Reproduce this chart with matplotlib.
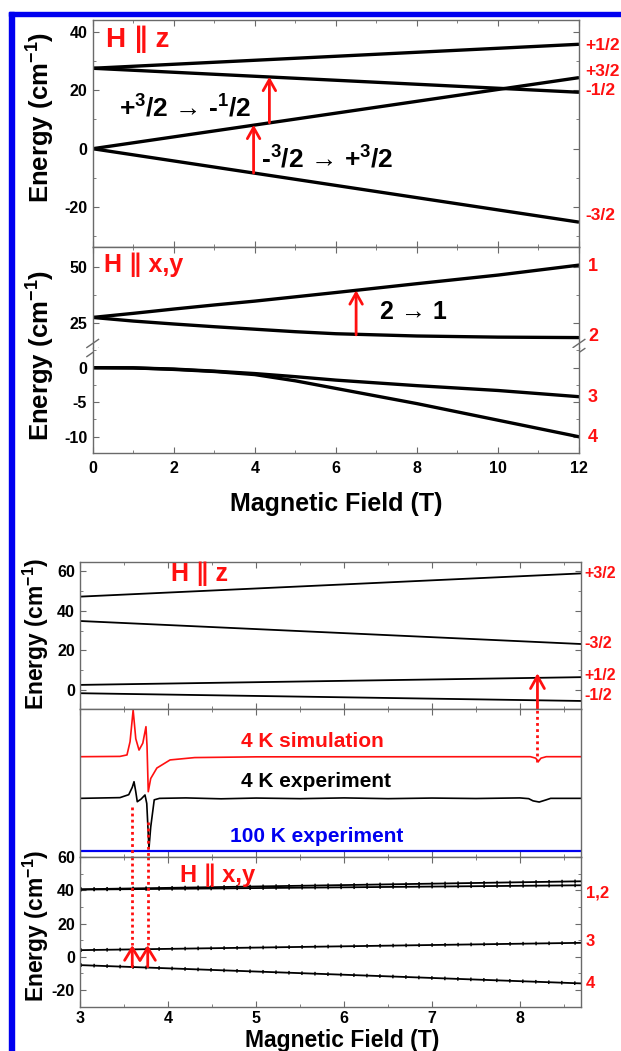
import matplotlib
matplotlib.use('Agg')
import matplotlib.pyplot as plt
from matplotlib.patches import Rectangle
from matplotlib.ticker import MultipleLocator

plt.rcParams['font.family'] = ['Liberation Sans', 'DejaVu Sans']
plt.rcParams['font.weight'] = 'bold'
plt.rcParams['mathtext.fontset'] = 'custom'
plt.rcParams['mathtext.bf'] = 'Liberation Sans:bold'
plt.rcParams['mathtext.rm'] = 'Liberation Sans:bold'
plt.rcParams['mathtext.default'] = 'bf'
plt.rcParams['axes.unicode_minus'] = False

W, H = 621, 1051
RED = '#ff1010'
BLUE = '#0000f0'
SPINE = '#6a6a6a'

# ---- top figure, H || z levels (0-12 T)
field_z = [0, 12]
lev_z = {'+1/2': [27.5, 35.7], '-1/2': [27.5, 19.3],
         '+3/2': [0.0, 24.3], '-3/2': [0.0, -25.1]}

# ---- top figure, H || x,y levels
field_xy = [0, 1, 2, 3, 4, 5, 6, 8, 10, 12]
lev_xy1 = [27.6, 29.4, 31.3, 33.1, 34.8, 36.7, 38.6, 42.5, 46.3, 50.7]
lev_xy2 = [27.6, 26.0, 24.7, 23.5, 22.4, 21.3, 20.4, 19.4, 18.9, 18.7]
lev_xy3 = [0.0, -0.03, -0.2, -0.5, -0.85, -1.3, -1.8, -2.6, -3.3, -4.2]
lev_xy4 = [0.0, -0.03, -0.25, -0.55, -1.0, -1.9, -3.0, -5.2, -7.6, -10.0]

# ---- bottom figure, levels 3-8.7 T
field_b = [3.0, 8.7]
levA = {'+3/2': [47.1, 58.8], '-3/2': [34.8, 23.2],
        '+1/2': [2.6, 6.5], '-1/2': [-1.6, -5.5]}
levC = {'1': [40.6, 45.4], '2': [40.4, 43.0], '3': [4.0, 8.4], '4': [-5.0, -16.0]}

# ---- spectra (offset, arb. units)
sim_x = [3.0, 3.45, 3.53, 3.565, 3.60, 3.63, 3.667, 3.71, 3.746, 3.758, 3.772,
         3.80, 3.87, 4.02, 4.3, 5.0, 8.12, 8.18, 8.21, 8.24, 8.3, 8.7]
sim_y = [0.678, 0.680, 0.69, 0.78, 0.995, 0.80, 0.723, 0.77, 0.882, 0.75, 0.44,
         0.53, 0.601, 0.656, 0.672, 0.677, 0.678, 0.668, 0.645, 0.668, 0.678, 0.678]
exp4_x = [3.0, 3.45, 3.55, 3.59, 3.61, 3.63, 3.647, 3.69, 3.735, 3.755, 3.78, 3.80,
          3.84, 3.9, 4.2, 4.6, 5.0, 5.5, 6.0, 6.5, 7.0, 7.5, 8.0, 8.1, 8.15, 8.22,
          8.3, 8.35, 8.7]
exp4_y = [0.395, 0.40, 0.42, 0.47, 0.508, 0.44, 0.372, 0.39, 0.418, 0.36, 0.055, 0.2,
          0.385, 0.395, 0.398, 0.392, 0.397, 0.393, 0.398, 0.393, 0.397, 0.394,
          0.398, 0.393, 0.378, 0.37, 0.385, 0.395, 0.395]
exp100_x = [3.0, 8.7]
exp100_y = [0.037, 0.037]


def rect(x0, y0, x1, y1):
    return [x0 / W, 1 - y1 / H, (x1 - x0) / W, (y1 - y0) / H]


def style(ax, xmaj, xmin, ymaj=None, ymin=None, labelbottom=False):
    for s in ax.spines.values():
        s.set_color(SPINE)
        s.set_linewidth(1.0)
    ax.tick_params(which='both', direction='in', top=True, right=True,
                   color=SPINE, labelsize=11.5, labelbottom=labelbottom, pad=4)
    ax.tick_params(which='major', length=4.5)
    ax.tick_params(which='minor', length=2.5)
    ax.xaxis.set_major_locator(MultipleLocator(xmaj))
    ax.xaxis.set_minor_locator(MultipleLocator(xmin))
    if ymaj is None:
        ax.set_yticks([])
    else:
        ax.yaxis.set_major_locator(MultipleLocator(ymaj))
        ax.yaxis.set_minor_locator(MultipleLocator(ymin))


def arrow(ax, x, y0, y1, lw=2.0, hl=0.8, hw=0.45):
    ax.annotate('', xy=(x, y1), xytext=(x, y0),
                arrowprops=dict(arrowstyle=f'->,head_length={hl},head_width={hw}',
                                color=RED, lw=lw, shrinkA=0, shrinkB=0))


def ftext(x, y, s, **kw):
    fig.text(x / W, 1 - y / H, s, **kw)


fig = plt.figure(figsize=(W / 100, H / 100), dpi=100)

# ================= top figure =================
ax1 = fig.add_axes(rect(92.7, 20, 579, 247))
for name, vals in lev_z.items():
    ax1.plot(field_z, vals, color='black', lw=2.4, solid_capstyle='butt')
ax1.set_xlim(0, 12)
ax1.set_ylim(-33.6, 44)
style(ax1, 2, 1, 20, 10)
ax1.text(0.33, 37.3, 'H ∥ z', color=RED, fontsize=20, va='center', ha='left')
ax1.text(0.64, 10.9, '+$^{3}$/2 → -$^{1}$/2', fontsize=19, va='baseline', ha='left')
ax1.text(4.16, -6.6, '-$^{3}$/2 → +$^{3}$/2', fontsize=19, va='baseline', ha='left')
arrow(ax1, 3.97, -8.3, 8.2)
arrow(ax1, 4.36, 8.9, 24.6)

ax2u = fig.add_axes(rect(92.7, 247, 579, 348))
ax2l = fig.add_axes(rect(92.7, 348, 579, 453))
ax2u.plot(field_xy, lev_xy1, color='black', lw=2.4)
ax2u.plot(field_xy, lev_xy2, color='black', lw=2.4)
ax2l.plot(field_xy, lev_xy3, color='black', lw=2.4)
ax2l.plot(field_xy, lev_xy4, color='black', lw=2.4)
for ax in (ax2u, ax2l):
    ax.set_xlim(0, 12)
ax2u.set_ylim(14.1, 58.7)
ax2l.set_ylim(-12.35, 2.85)
style(ax2u, 2, 1, 25, 12.5)
style(ax2l, 2, 1, 5, 2.5, labelbottom=True)
ax2u.spines['bottom'].set_visible(False)
ax2l.spines['top'].set_visible(False)
ax2u.tick_params(which='both', bottom=False)
ax2l.tick_params(which='both', top=False)
ax2l.tick_params(axis='x', pad=6)
for xa in (0, 1):
    for dy in (-0.045, 0.045):
        ax2u.plot([xa - 0.012, xa + 0.012], [dy - 0.04, dy + 0.04],
                  transform=ax2u.transAxes, color=SPINE, lw=1, clip_on=False)
ax2u.text(0.27, 50.7, 'H ∥ x,y', color=RED, fontsize=18, va='center', ha='left')
ax2u.text(7.09, 30.1, '2 → 1', fontsize=18, va='center', ha='left')
arrow(ax2u, 6.5, 19.9, 39.6)

ftext(41, 118, 'Energy (cm$^{-1}$)', rotation=90, fontsize=18.5, ha='center', va='center')
ftext(41, 356, 'Energy (cm$^{-1}$)', rotation=90, fontsize=18.5, ha='center', va='center')
ftext(336, 504, 'Magnetic Field (T)', fontsize=18, ha='center', va='center')

for s, y in [('+1/2', 45), ('+3/2', 71.7), ('-1/2', 90.7), ('-3/2', 215)]:
    ftext(585.5, y, s, color=RED, fontsize=12.5, va='center', ha='left')
for s, y in [('1', 266.7), ('2', 336.7), ('3', 398), ('4', 438)]:
    ftext(588, y, s, color=RED, fontsize=13, va='center', ha='left')

# ================= bottom figure =================
axA = fig.add_axes(rect(80.4, 561.7, 581.4, 709.3))
axB = fig.add_axes(rect(80.4, 709.3, 581.4, 856.5))
axC = fig.add_axes(rect(80.4, 856.5, 581.4, 1006.7))

for name, vals in levA.items():
    axA.plot(field_b, vals, color='black', lw=1.3)
axA.set_xlim(3, 8.7)
axA.set_ylim(-9.7, 64.7)
style(axA, 1, 0.5, 20, 10)
axA.text(4.03, 58.8, 'H ∥ z', color=RED, fontsize=18, va='center', ha='left')
arrow(axA, 8.2, -9.7, 8.5, lw=2.0, hl=0.9, hw=0.5)

axB.plot(sim_x, sim_y, color=RED, lw=1.2)
axB.plot(exp4_x, exp4_y, color='black', lw=1.2)
axB.plot(exp100_x, exp100_y, color=BLUE, lw=1.6)
axB.set_xlim(3, 8.7)
axB.set_ylim(0, 1)
style(axB, 1, 0.5)
axB.plot([3.59, 3.59], [0.338, 0], color=RED, lw=2, ls=(0, (1, 1.2)))
axB.plot([3.766, 3.766], [0.236, 0], color=RED, lw=2, ls=(0, (1, 1.2)))
axB.plot([8.2, 8.2], [0.645, 1.0], color=RED, lw=2, ls=(0, (1, 1.2)))
axB.text(5.64, 0.78, '4 K simulation', color=RED, fontsize=15, ha='center', va='center')
axB.text(5.68, 0.508, '4 K experiment', color='black', fontsize=15, ha='center', va='center')
axB.text(5.69, 0.139, '100 K experiment', color=BLUE, fontsize=15, ha='center', va='center')

for name, vals in levC.items():
    axC.plot(field_b, vals, color='black', lw=1.3)
    axC.plot(field_b, vals, color='black', lw=2.6, ls=(0, (0.4, 3.2)))
axC.set_xlim(3, 8.7)
axC.set_ylim(-30, 60.3)
style(axC, 1, 0.5, 20, 10, labelbottom=True)
axC.tick_params(axis='x', pad=3)
axC.text(4.13, 48.9, 'H ∥ x,y', color=RED, fontsize=17, va='center', ha='left')
for xv in (3.59, 3.766):
    axC.plot([xv, xv], [60.3, 7], color=RED, lw=2, ls=(0, (1, 1.2)))
    arrow(axC, xv, -6, 7, lw=2.0, hl=0.9, hw=0.55)

ftext(36, 634, 'Energy (cm$^{-1}$)', rotation=90, fontsize=16.5, ha='center', va='center')
ftext(36, 926, 'Energy (cm$^{-1}$)', rotation=90, fontsize=16.5, ha='center', va='center')
ftext(342, 1040, 'Magnetic Field (T)', fontsize=16.5, ha='center', va='center')

for s, y in [('+3/2', 573.3), ('-3/2', 644), ('+1/2', 676), ('-1/2', 695)]:
    ftext(584, y, s, color=RED, fontsize=11.5, va='center', ha='left')
for s, y in [('1,2', 893.3), ('3', 941.7), ('4', 983.3)]:
    ftext(586, y, s, color=RED, fontsize=12, va='center', ha='left')

# blue frame (left and top edges)
fig.patches.append(Rectangle((9 / W, 0), 4.5 / W, 1 - 12 / H,
                             transform=fig.transFigure, color=BLUE, zorder=10))
fig.patches.append(Rectangle((9 / W, 1 - 16 / H), 1, 4 / H,
                             transform=fig.transFigure, color=BLUE, zorder=10))

fig.savefig('out.png', dpi=100)
